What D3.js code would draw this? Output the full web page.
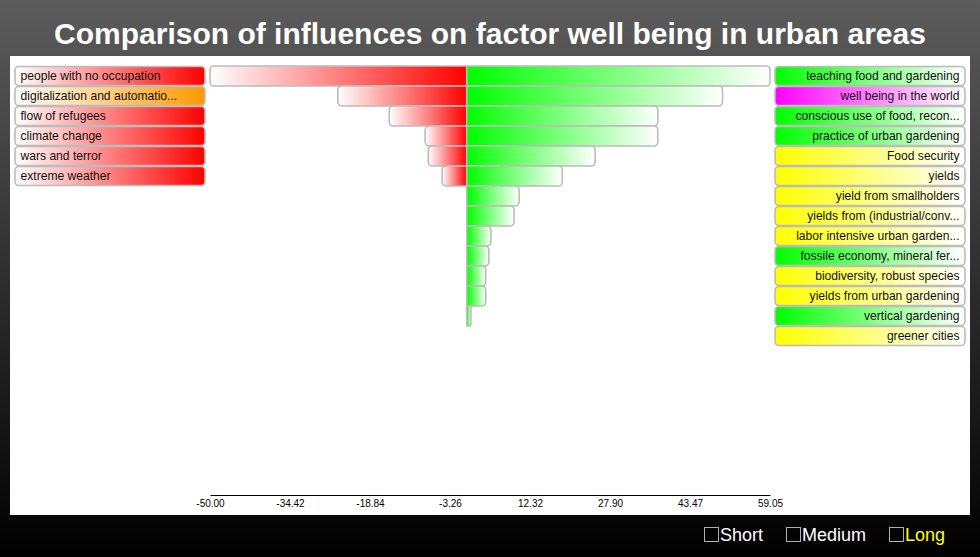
<!DOCTYPE html>
<html>
<head>
<meta charset="utf-8">
<script src="https://cdn.jsdelivr.net/npm/d3@7"></script>
<style>
  html, body { margin: 0; padding: 0; background: #000; }
  svg { display: block; }
  text { font-family: "Liberation Sans", Arial, Helvetica, sans-serif; }
</style>
</head>
<body>
<svg id="chart" width="980" height="557"></svg>
<script>
const title = "Comparison of influences on factor well being in urban areas";

const negLabels = ["people with no occupation", "digitalization and automatio...", "flow of refugees",
  "climate change", "wars and terror", "extreme weather"];
const negColors = ["#ff0000", "#ff9900", "#ff0000", "#ff0000", "#ff0000", "#ff0000"];
const negValues = [-50.00, -25.1, -15.1, -8.1, -7.5, -4.8];

const posLabels = ["teaching food and gardening", "well being in the world", "conscious use of food, recon...",
  "practice of urban gardening", "Food security", "yields", "yield from smallholders",
  "yields from (industrial/conv...", "labor intensive urban garden...", "fossile economy, mineral fer...",
  "biodiversity, robust species", "yields from urban gardening", "vertical gardening", "greener cities"];
const posColors = ["#00ff00", "#ff00ff", "#00ff00", "#00ff00", "#ffff00", "#ffff00", "#ffff00",
  "#ffff00", "#ffff00", "#00ff00", "#ffff00", "#ffff00", "#00ff00", "#ffff00"];
const posValues = [59.05, 49.8, 37.2, 37.2, 25.0, 18.6, 10.2, 9.2, 4.7, 4.3, 3.7, 3.7, 0.8, 0];

const tickLabels = ["-50.00", "-34.42", "-18.84", "-3.26", "12.32", "27.90", "43.47", "59.05"];

const legendLabels = ["Short", "Medium", "Long"];
const legendColors = ["#ffffff", "#ffffff", "#ffff00"];

const svg = d3.select("#chart");
const defs = svg.append("defs");

// background gradient
const bg = defs.append("linearGradient").attr("id", "bg").attr("x1", 0).attr("y1", 0).attr("x2", 0).attr("y2", 1);
bg.append("stop").attr("offset", "0%").attr("stop-color", "#5c5c5c");
bg.append("stop").attr("offset", "100%").attr("stop-color", "#000000");
svg.append("rect").attr("width", 980).attr("height", 557).attr("fill", "url(#bg)");

// white panel
svg.append("rect").attr("x", 10).attr("y", 56).attr("width", 960).attr("height", 459).attr("fill", "#ffffff");

// title
svg.append("text").attr("x", 490).attr("y", 44).attr("text-anchor", "middle")
  .attr("fill", "#fff").attr("font-weight", "bold").attr("font-size", 30).text(title);

function grad(id, c0, c1) {
  const g = defs.append("linearGradient").attr("id", id).attr("x1", 0).attr("y1", 0).attr("x2", 1).attr("y2", 0);
  g.append("stop").attr("offset", "0%").attr("stop-color", c0);
  g.append("stop").attr("offset", "100%").attr("stop-color", c1);
}
grad("negBar", "#ffffff", "#ff0000");
grad("posBar", "#00ff00", "#ffffff");

const nRows = Math.max(negValues.length, posValues.length);
const y = d3.scaleBand().domain(d3.range(nRows)).range([66, 66 + nRows * 20]).padding(0);
const allVals = negValues.concat(posValues);
const x = d3.scaleLinear().domain(d3.extent(allVals)).range([210, 770]);

// rounded only on one side
function sidePath(xa, xb, yt, h, rl, rr) {
  const w = xb - xa;
  rl = Math.min(rl, w / 2, h / 2); rr = Math.min(rr, w / 2, h / 2);
  const p = d3.path();
  p.moveTo(xa + rl, yt);
  p.lineTo(xb - rr, yt);
  if (rr) p.arcTo(xb, yt, xb, yt + rr, rr);
  p.lineTo(xb, yt + h - rr);
  if (rr) p.arcTo(xb, yt + h, xb - rr, yt + h, rr);
  p.lineTo(xa + rl, yt + h);
  if (rl) p.arcTo(xa, yt + h, xa, yt + h - rl, rl);
  p.lineTo(xa, yt + rl);
  if (rl) p.arcTo(xa, yt, xa + rl, yt, rl);
  p.closePath();
  return p.toString();
}

const barH = y.bandwidth();
const stroke = "#bcbcbc";

// negative bars
svg.append("g").selectAll("path").data(negValues).join("path")
  .attr("d", (d, i) => sidePath(x(d), x(0), y(i), barH, 4, 0))
  .attr("fill", "url(#negBar)").attr("stroke", stroke).attr("stroke-width", 1.6);

// positive bars
svg.append("g").selectAll("path").data(posValues.map((v, i) => ({ v, i })).filter(d => d.v > 0)).join("path")
  .attr("d", d => sidePath(x(0), x(d.v), y(d.i), barH, 0, 4))
  .attr("fill", "url(#posBar)").attr("stroke", stroke).attr("stroke-width", 1.6);

// left labels
negLabels.forEach((l, i) => grad("nl" + i, "#ffffff", negColors[i]));
const gl = svg.append("g");
gl.selectAll("rect").data(negLabels).join("rect")
  .attr("x", 15).attr("y", (d, i) => y(i) + 0.5).attr("width", 190).attr("height", barH - 1)
  .attr("rx", 4).attr("fill", (d, i) => `url(#nl${i})`).attr("stroke", stroke).attr("stroke-width", 1.6);
gl.selectAll("text").data(negLabels).join("text")
  .attr("x", 20.5).attr("y", (d, i) => y(i) + barH / 2 + 4.4)
  .attr("font-size", 12.1).attr("fill", "#111").text(d => d);

// right labels
posLabels.forEach((l, i) => grad("pl" + i, posColors[i], "#ffffff"));
const gr = svg.append("g");
gr.selectAll("rect").data(posLabels).join("rect")
  .attr("x", 775).attr("y", (d, i) => y(i) + 0.5).attr("width", 190).attr("height", barH - 1)
  .attr("rx", 4).attr("fill", (d, i) => `url(#pl${i})`).attr("stroke", stroke).attr("stroke-width", 1.6);
gr.selectAll("text").data(posLabels).join("text")
  .attr("x", 959.5).attr("y", (d, i) => y(i) + barH / 2 + 4.4).attr("text-anchor", "end")
  .attr("font-size", 12.1).attr("fill", "#111").text(d => d);

// axis
const dom = x.domain();
const tickVals = tickLabels.map((t, i) => dom[0] + i * (dom[1] - dom[0]) / (tickLabels.length - 1));
const axis = d3.axisBottom(x).tickValues(tickVals).tickFormat((d, i) => tickLabels[i])
  .tickSize(0).tickSizeOuter(0).tickPadding(5);
const ga = svg.append("g").attr("transform", "translate(0,495)").call(axis);
ga.select(".domain").attr("stroke", "#000").attr("stroke-width", 1.2);
ga.selectAll("text").attr("font-size", 10).attr("fill", "#000")
  .attr("font-family", "'Liberation Sans', Arial, sans-serif");

// legend
const legX = [704, 786, 889];
const lg = svg.append("g");
legendLabels.forEach((l, i) => {
  lg.append("rect").attr("x", legX[i] + 0.5).attr("y", 527.5).attr("width", 14).attr("height", 14)
    .attr("fill", "none").attr("stroke", "#b0b0b0").attr("stroke-width", 1);
  lg.append("text").attr("x", legX[i] + 16).attr("y", 541).attr("font-size", 18)
    .attr("fill", legendColors[i]).text(l);
});
</script>
</body>
</html>
